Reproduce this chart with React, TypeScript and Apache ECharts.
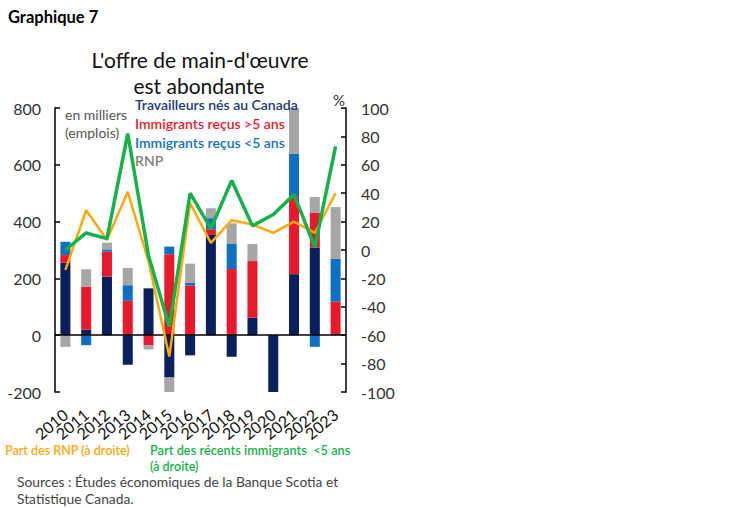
import React, { useEffect, useRef } from 'react';
import * as echarts from 'echarts';

const years = ['2010', '2011', '2012', '2013', '2014', '2015', '2016', '2017', '2018', '2019', '2020', '2021', '2022', '2023'];

// thousands of jobs
const canadaBorn = [255, 20, 206, -104, 165, -149, -71, 353, -76, 62, -206, 215, 309, 3];
const immOver5 = [27, 151, 88, 121, -35, 285, 175, 20, 233, 199, 0, 271, 122, 115];
const immUnder5 = [47, -35, 8, 55, 0, 27, 9, 39, 88, 0, 0, 152, -41, 151];
const npr = [-41, 61, 24, 61, -15, -56, 68, 35, 73, 60, 0, 162, 56, 182];

// % (right axis)
const nprShare = [-14, 28, 7, 41, -8, -75, 33, 5, 21, 18, 12, 20, 12, 40];
const recentShare = [0, 12, 8, 82, -4, -54, 40, 15, 49, 17, 25, 39, 2, 73];

const FONT = 'Lato, "Open Sans", sans-serif';
const NAVY = '#0b1f5c';
const RED = '#e8192c';
const BLUE = '#0f6fc2';
const GRAY = '#a6a6a6';
const GREEN = '#17b14a';
const ORANGE = '#fca80f';

function bar(name: string, data: number[], color: string) {
  return {
    name,
    type: 'bar',
    stack: 'jobs',
    data,
    barWidth: 10,
    itemStyle: { color },
  };
}

export default function App() {
  const elRef = useRef<HTMLDivElement | null>(null);

  useEffect(() => {
    if (!elRef.current) return;
    const chart = echarts.init(elRef.current, null, { renderer: 'svg' });

    const axisLabel = { color: '#333', fontSize: 16, fontFamily: FONT };
    const txt = (x: number, y: number, text: string, fill: string, size: number, weight: any = 'normal', align = 'left') => ({
      type: 'text',
      x,
      y,
      z: 100,
      style: { text, fill, fontSize: size, fontWeight: weight, fontFamily: FONT, align, verticalAlign: 'middle' },
    });

    const opt: any = {
      animation: false,
      grid: { left: 55, right: 402, top: 108, bottom: 116 },
      xAxis: {
        type: 'category',
        data: years,
        axisLine: { show: false },
        axisTick: { show: false },
        axisLabel: { rotate: 40, interval: 0, margin: 20, color: '#111', fontSize: 16, fontFamily: FONT },
      },
      yAxis: [
        {
          type: 'value',
          min: -200,
          max: 800,
          interval: 200,
          axisLine: { show: true, lineStyle: { color: '#000', width: 1.5 } },
          axisTick: { show: true, inside: true, length: 5, lineStyle: { color: '#000', width: 1.5 } },
          axisLabel: { ...axisLabel, margin: 14 },
          splitLine: { show: false },
        },
        {
          type: 'value',
          position: 'right',
          min: -100,
          max: 100,
          interval: 20,
          axisLine: { show: true, lineStyle: { color: '#000', width: 1.5 } },
          axisTick: { show: true, inside: true, length: 5, lineStyle: { color: '#000', width: 1.5 } },
          axisLabel: { ...axisLabel, margin: 15 },
          splitLine: { show: false },
        },
      ],
      series: [
        {
          ...bar('Travailleurs nés au Canada', canadaBorn, NAVY),
          markLine: {
            silent: true,
            symbol: ['none', 'none'],
            label: { show: false },
            lineStyle: { color: '#000', width: 1.5, type: 'solid' },
            data: [{ yAxis: 0 }],
          },
        },
        bar('Immigrants reçus >5 ans', immOver5, RED),
        bar('Immigrants reçus <5 ans', immUnder5, BLUE),
        bar('RNP', npr, GRAY),
        {
          name: 'Part des RNP',
          type: 'line',
          yAxisIndex: 1,
          data: nprShare,
          showSymbol: false,
          lineStyle: { color: ORANGE, width: 2.5 },
          z: 5,
        },
        {
          name: 'Part des récents immigrants <5 ans',
          type: 'line',
          yAxisIndex: 1,
          data: recentShare,
          showSymbol: false,
          lineStyle: { color: GREEN, width: 3.5 },
          z: 6,
        },
      ],
      graphic: [
        txt(8, 17, 'Graphique 7', '#000', 16.5, 'bold'),
        txt(200, 59, "L'offre de main-d'œuvre", '#111', 21, 'normal', 'center'),
        txt(199, 85, 'est abondante', '#111', 21, 'normal', 'center'),
        txt(65, 114, 'en milliers', '#555', 14),
        txt(65, 132, '(emplois)', '#555', 14),
        txt(333, 100, '%', '#333', 15),
        txt(135, 104, 'Travailleurs nés au Canada', '#1b3a78', 14, 600),
        txt(135, 123, 'Immigrants reçus >5 ans', RED, 14, 600),
        txt(135, 142, 'Immigrants reçus <5 ans', BLUE, 14, 600),
        txt(135, 160, 'RNP', '#7f7f7f', 14, 600),
        txt(5, 450, 'Part des RNP (à droite)', ORANGE, 12.5, 600),
        txt(150, 450, 'Part des récents immigrants  <5 ans', GREEN, 12.8, 600),
        txt(150, 466, '(à droite)', GREEN, 12.5, 600),
        txt(17, 481, 'Sources : Études économiques de la Banque Scotia et', '#444', 13.8),
        txt(17, 498, 'Statistique Canada.', '#444', 13.8),
      ],
    };

    chart.setOption(opt);
    return () => chart.dispose();
  }, []);

  return (
    <div
      ref={elRef}
      style={{ position: 'fixed', left: 0, top: 0, width: 748, height: 508, background: '#fff' }}
    />
  );
}
